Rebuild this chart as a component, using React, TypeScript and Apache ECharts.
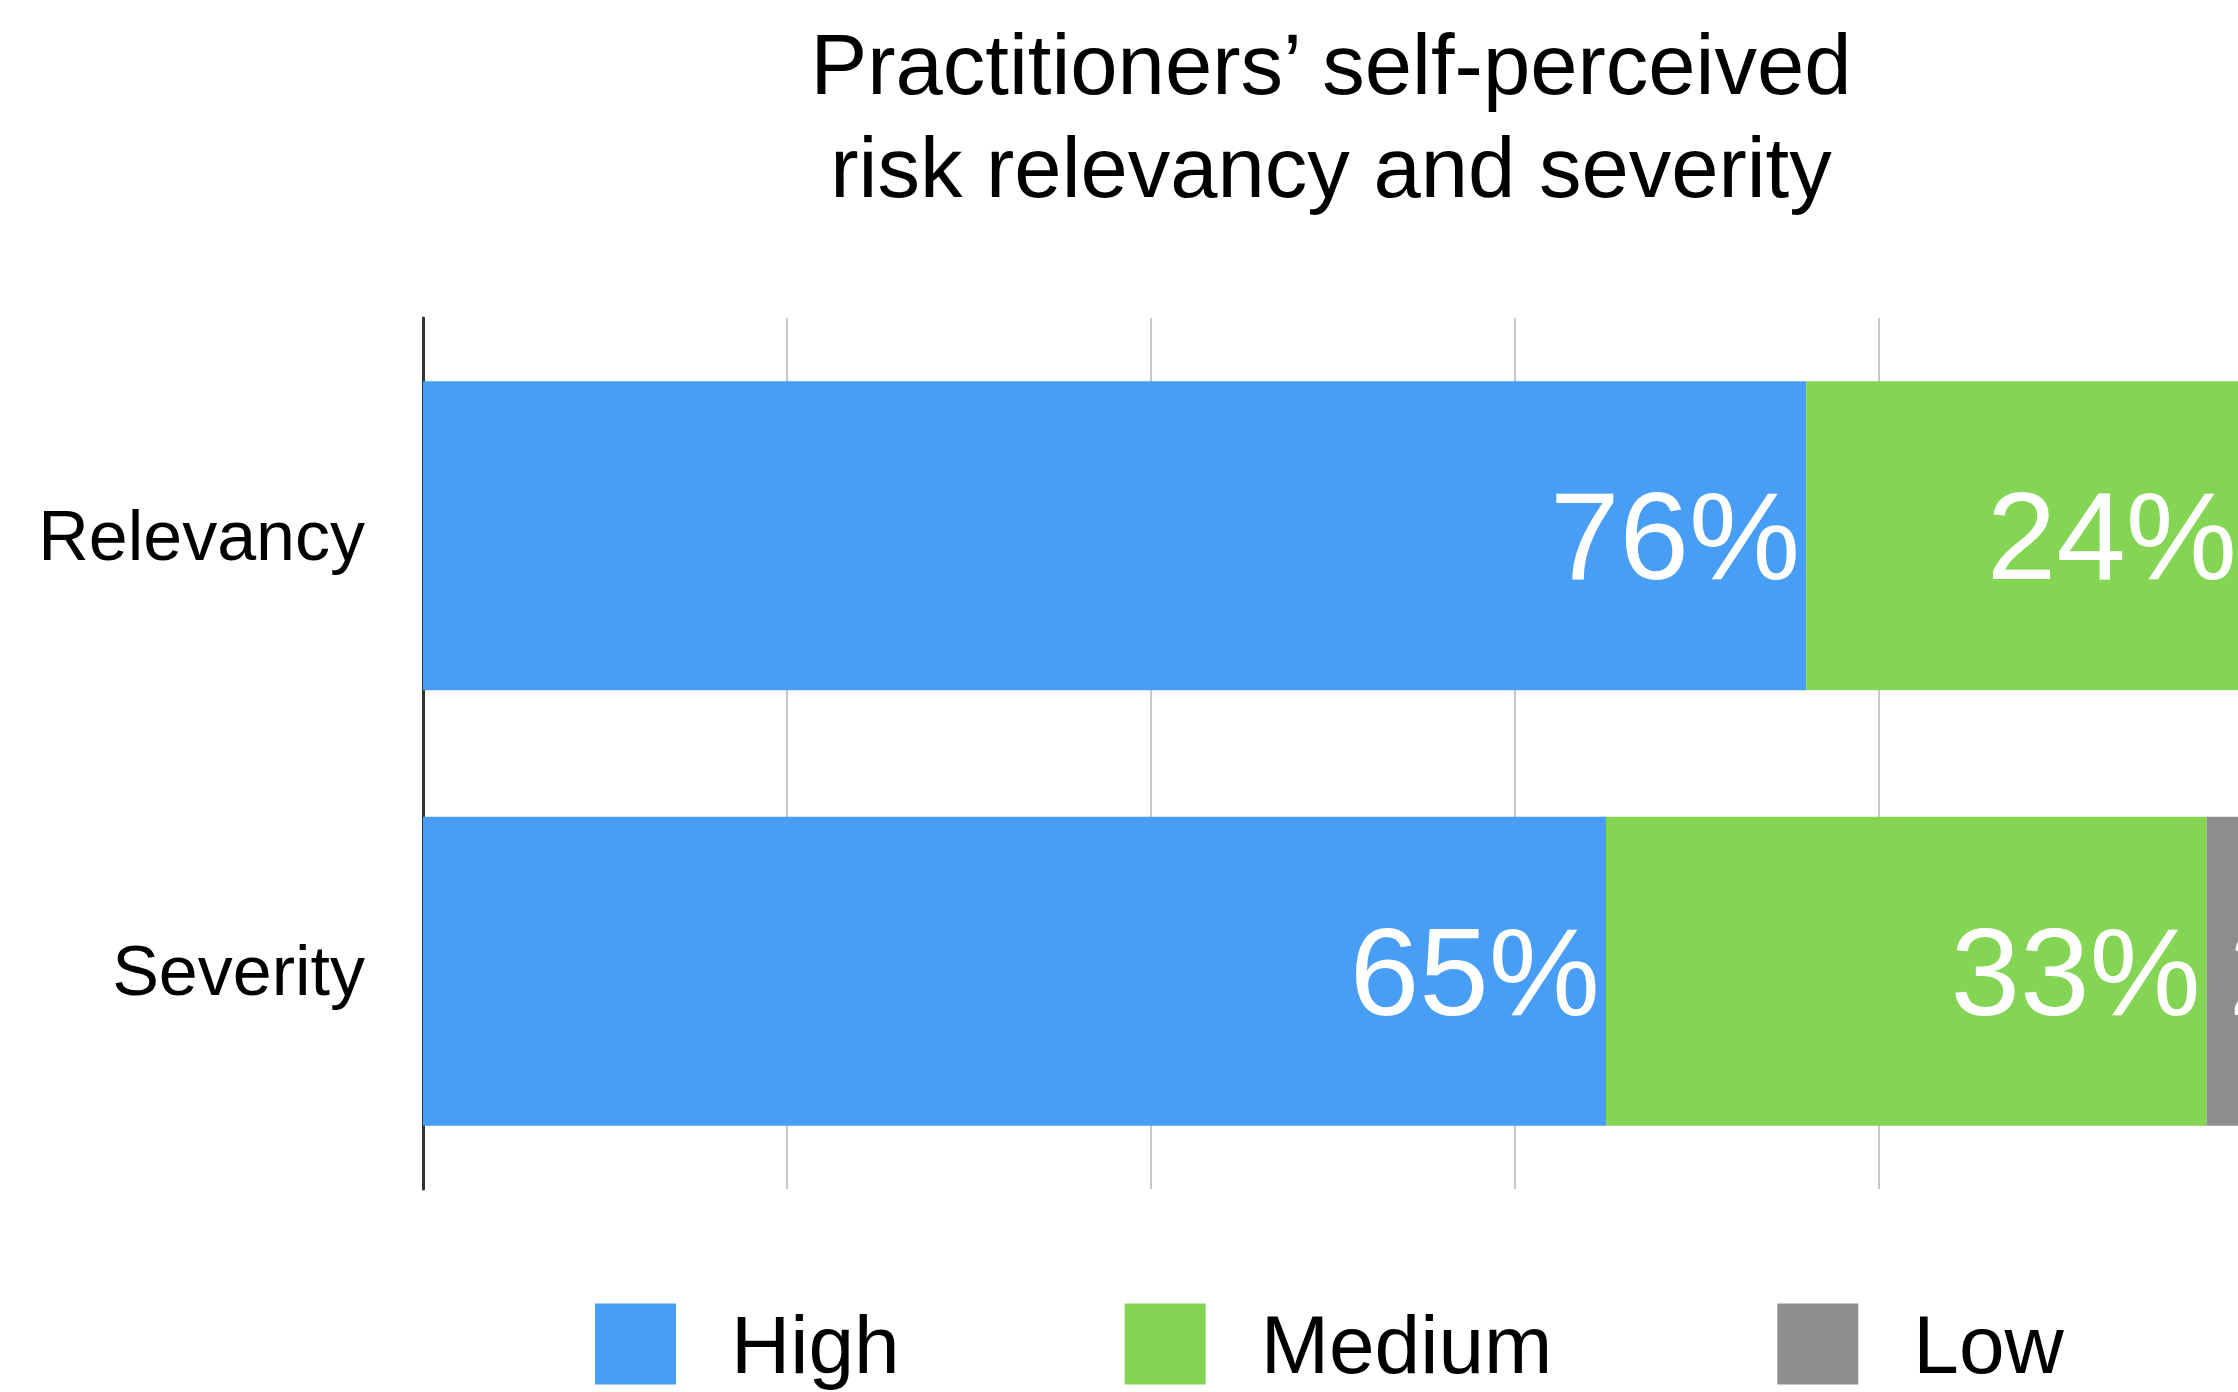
import React, { useEffect, useRef } from "react";
import * as echarts from "echarts";

// Survey categories (top to bottom) and the share of answers per level, in percent
const categories = ["Relevancy", "Severity"];
const levelNames = ["High", "Medium", "Low"];
const highValues = [76, 65];
const mediumValues = [24, 33];
const lowValues = [0, 2];
const xTicks = [0, 20, 40, 60, 80, 100];
const titleLines = ["Practitioners’ self-perceived", "risk relevancy and severity"];

const FONT = "'Liberation Sans', Arial, Helvetica, sans-serif";
const levelColors = ["#489ef5", "#84d553", "#8e8e8e"];

// The drawing surface is a bit wider than the visible frame so that the
// 100% end of the scale sits just past the right edge.
const VIEW_W = 2238;
const VIEW_H = 1392;
const CHART_W = 2300;

export default function App() {
  const ref = useRef<HTMLDivElement>(null);

  useEffect(() => {
    if (!ref.current) return;
    const chart = echarts.init(ref.current, undefined, { renderer: "svg" });
    const valueSets = [highValues, mediumValues, lowValues];

    chart.setOption({
      animation: false,
      backgroundColor: "#ffffff",
      title: {
        text: titleLines.join("\n"),
        left: 1331,
        top: 13,
        padding: 0,
        textAlign: "center",
        textStyle: {
          fontFamily: FONT,
          fontSize: 85,
          fontWeight: "normal",
          lineHeight: 103,
          color: "#000000",
        },
      },
      legend: {
        data: levelNames,
        left: 595,
        top: 1303,
        padding: 0,
        icon: "rect",
        itemWidth: 81,
        itemHeight: 81,
        itemGap: 225,
        textStyle: {
          fontFamily: FONT,
          fontSize: 82,
          color: "#000000",
          padding: [0, 0, 0, 50],
        },
      },
      grid: { left: 423, right: CHART_W - 2243, top: 318, bottom: 203 },
      xAxis: {
        type: "value",
        min: xTicks[0],
        max: xTicks[xTicks.length - 1],
        interval: xTicks[1] - xTicks[0],
        axisLabel: { show: false },
        axisLine: { show: false },
        axisTick: { show: false },
        splitLine: { show: true, lineStyle: { color: "#c8c8c8", width: 2 } },
      },
      yAxis: {
        type: "category",
        data: categories,
        inverse: true,
        axisLine: { show: true, lineStyle: { color: "#333333", width: 3 } },
        axisTick: { show: false },
        axisLabel: {
          margin: 58,
          fontFamily: FONT,
          fontSize: 70,
          color: "#000000",
        },
      },
      series: levelNames.map((name, i) => ({
        name,
        type: "bar",
        stack: "total",
        barWidth: "71%",
        data: valueSets[i],
        itemStyle: { color: levelColors[i] },
        label: {
          show: true,
          position: i === 2 ? "insideLeft" : "insideRight",
          distance: i === 2 ? 22 : 6,
          color: "#ffffff",
          fontFamily: FONT,
          fontSize: 125,
          formatter: (p: any) => (p.value ? `${p.value}%` : ""),
        },
      })),
    });

    return () => chart.dispose();
  }, []);

  return (
    <div
      style={{
        position: "fixed",
        left: 0,
        top: 0,
        width: VIEW_W,
        height: VIEW_H,
        overflow: "hidden",
        background: "#ffffff",
      }}
    >
      <div ref={ref} style={{ width: CHART_W, height: VIEW_H }} />
    </div>
  );
}
